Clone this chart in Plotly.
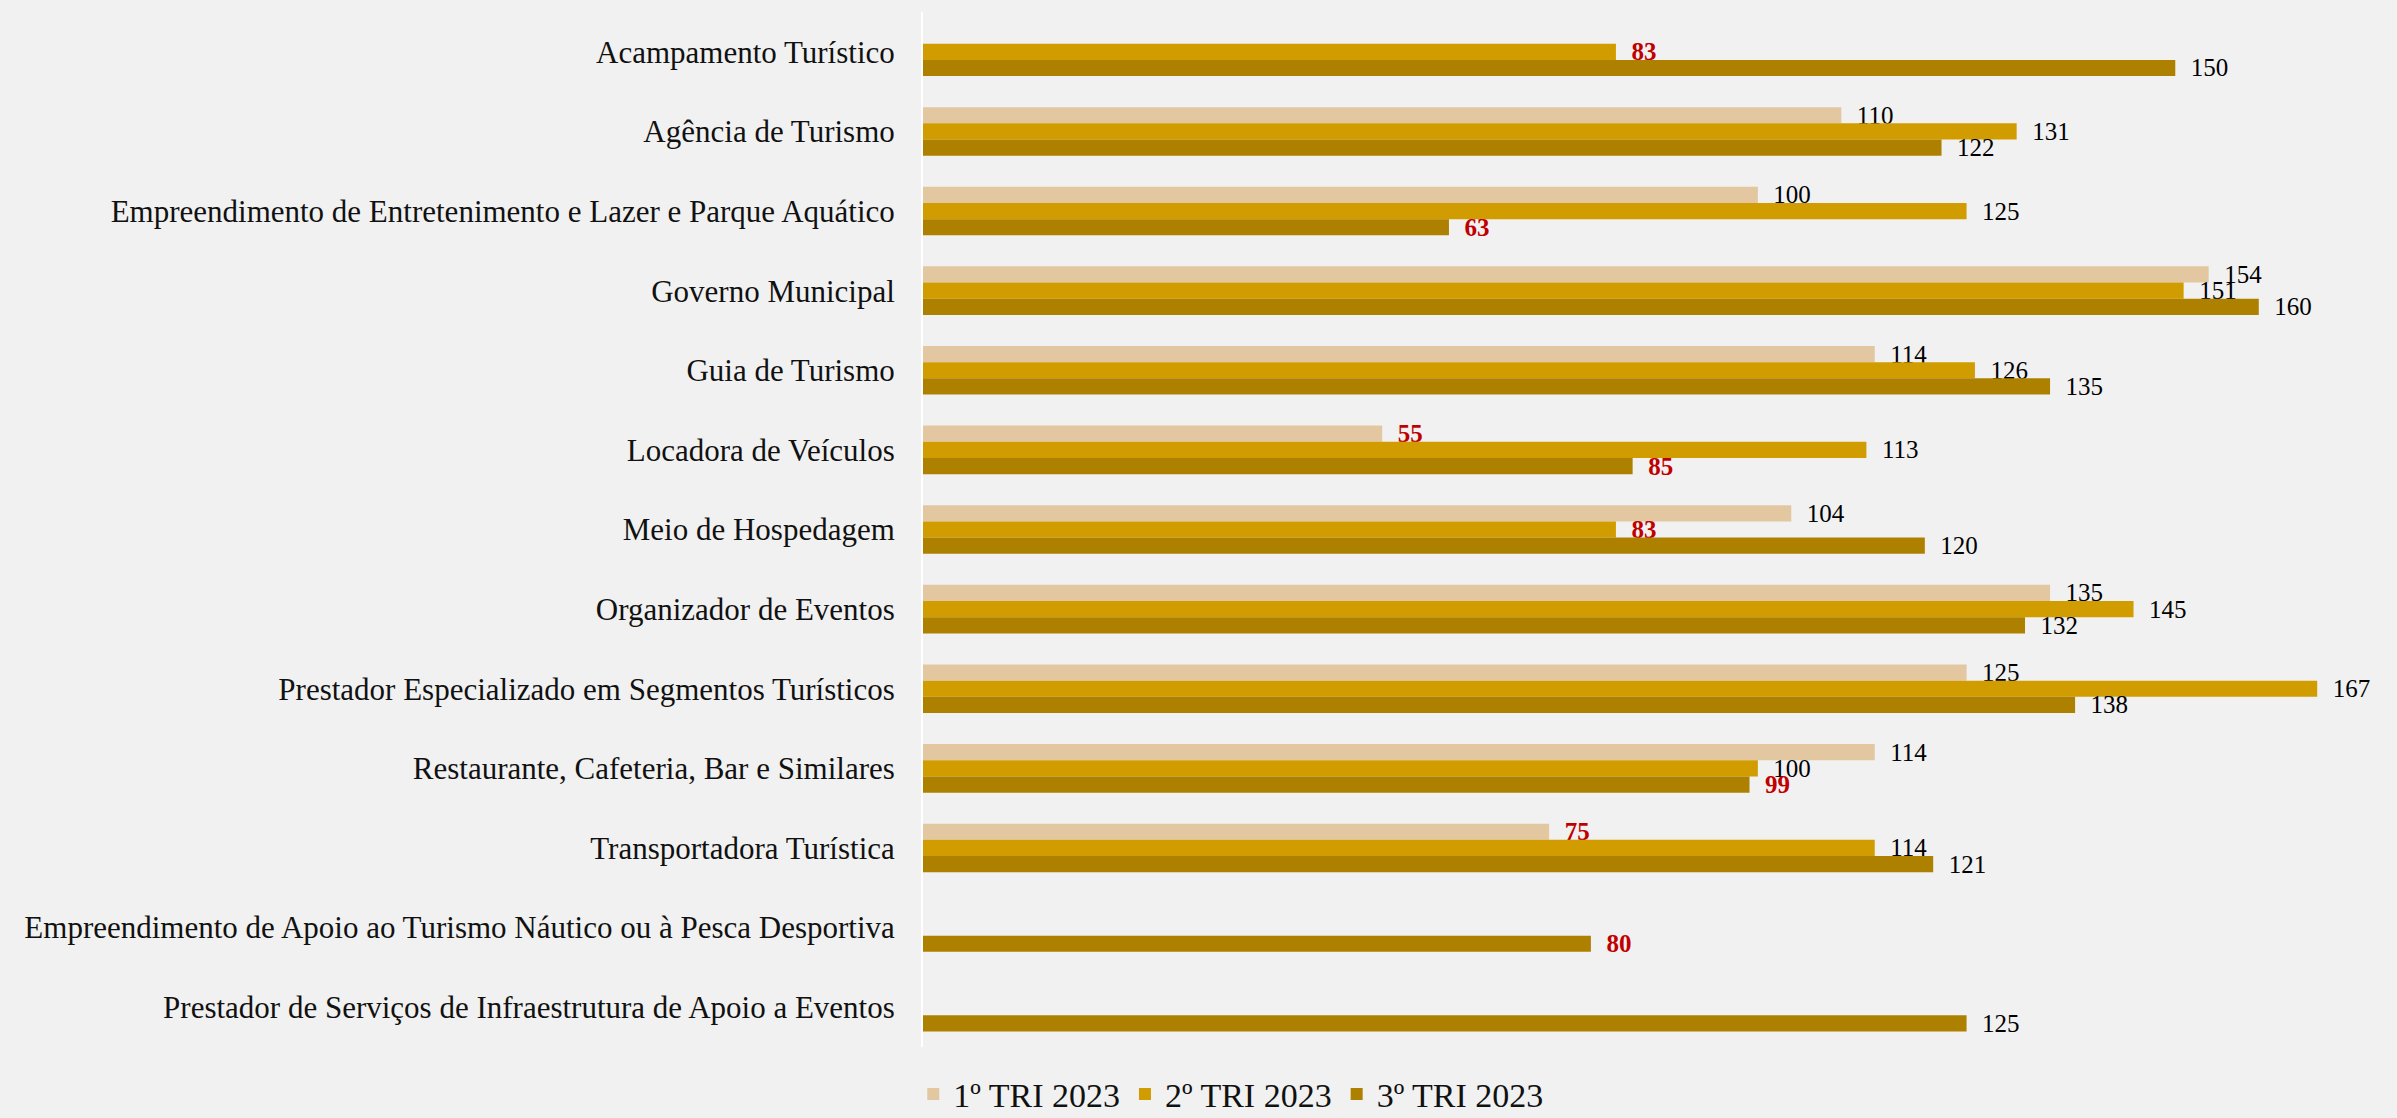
import plotly.graph_objects as go

categories = [
    "Acampamento Turístico",
    "Agência de Turismo",
    "Empreendimento de Entretenimento e Lazer e Parque Aquático",
    "Governo Municipal",
    "Guia de Turismo",
    "Locadora de Veículos",
    "Meio de Hospedagem",
    "Organizador de Eventos",
    "Prestador Especializado em Segmentos Turísticos",
    "Restaurante, Cafeteria, Bar e Similares",
    "Transportadora Turística",
    "Empreendimento de Apoio ao Turismo Náutico ou à Pesca Desportiva",
    "Prestador de Serviços de Infraestrutura de Apoio a Eventos",
]
tri1 = [None, 110, 100, 154, 114, 55, 104, 135, 125, 114, 75, None, None]
tri2 = [83, 131, 125, 151, 126, 113, 83, 145, 167, 100, 114, None, None]
tri3 = [150, 122, 63, 160, 135, 85, 120, 132, 138, 99, 121, 80, 125]
series_names = ["1º TRI 2023", "2º TRI 2023", "3º TRI 2023"]
colors = ["#E2C7A1", "#D19C00", "#AE8000"]

FONT = "Liberation Serif"
PAD = "\u00a0\u00a0"

def labels(vals):
    out = []
    for v in vals:
        if v is None:
            out.append("")
        elif v < 100:
            out.append(f"{PAD}<b>{v}</b>")
        else:
            out.append(f"{PAD}{v}")
    return out

def label_colors(vals):
    return ["#C00000" if (v is not None and v < 100) else "#000000" for v in vals]

fig = go.Figure()
for name, vals, col in zip(series_names, [tri1, tri2, tri3], colors):
    fig.add_trace(go.Bar(
        y=categories, x=vals, name=name, orientation="h",
        marker=dict(color=col, line=dict(width=0)),
        text=labels(vals), textposition="outside",
        textfont=dict(family=FONT, size=25, color=label_colors(vals)),
        constraintext="none", cliponaxis=False,
        hoverinfo="skip",
    ))

fig.update_layout(
    width=2397, height=1118,
    paper_bgcolor="#F1F1F1", plot_bgcolor="#F1F1F1",
    margin=dict(l=923, r=13, t=12, b=71),
    barmode="group", bargap=0.39, bargroupgap=0,
    font=dict(family=FONT, color="#111111"),
    showlegend=True,
    legend=dict(
        orientation="h", xref="container", yref="container",
        x=0.381, y=0.021, xanchor="left", yanchor="middle",
        font=dict(family=FONT, size=34, color="#111111"),
        bgcolor="rgba(0,0,0,0)", traceorder="normal",
    ),
    xaxis=dict(range=[0, 175], showgrid=False, zeroline=False,
               showticklabels=False, showline=False, ticks=""),
    yaxis=dict(autorange="reversed", showgrid=False, zeroline=False,
               showline=True, linecolor="#FFFFFF", linewidth=2,
               ticks="", ticklabelstandoff=20,
               tickfont=dict(family=FONT, size=31, color="#111111")),
)

fig.write_html("out.html",
               config={"displayModeBar": False},
               post_script="document.body.style.margin='0';document.body.style.background='#F1F1F1';")
